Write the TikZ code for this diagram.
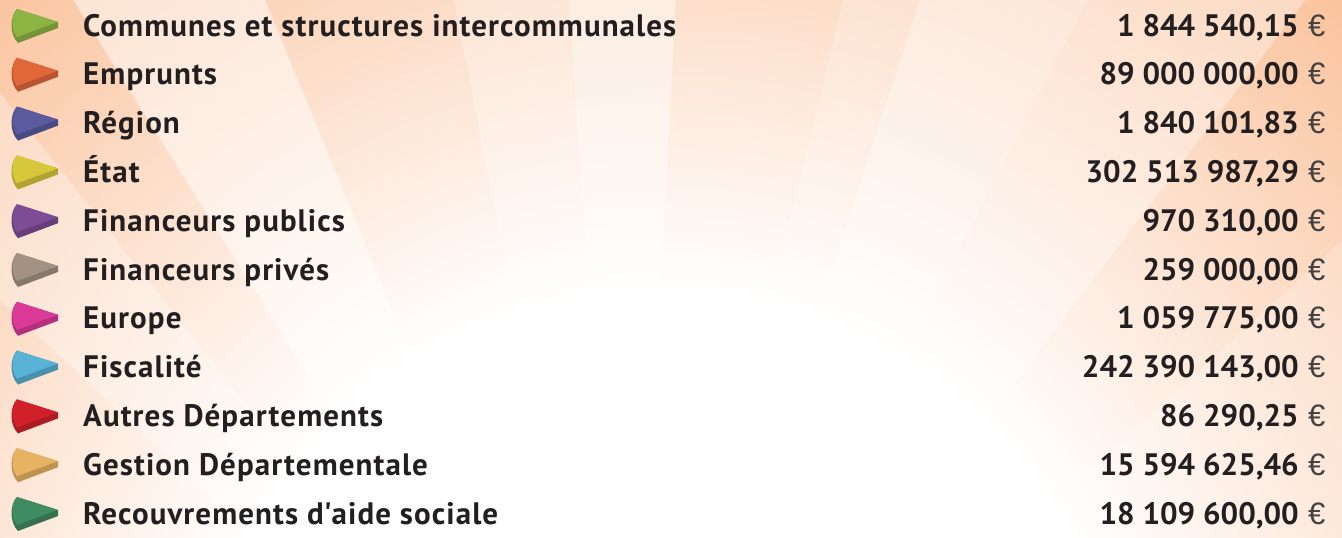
\documentclass[tikz,border=0pt]{standalone}
\usepackage{fontspec}
\setmainfont{PT Sans}
\newfontfamily\labelfont{PT Sans}[LetterSpace=3.5]
\newfontfamily\eurofont{Liberation Sans}
\usetikzlibrary{positioning}

\definecolor{sunorange}{HTML}{F8A56C}
\definecolor{textgrey}{HTML}{231F20}
\definecolor{cgreen}{HTML}{8DB443}
\definecolor{corange}{HTML}{E0673A}
\definecolor{cblue}{HTML}{5A5A9E}
\definecolor{cyellow}{HTML}{D9C73B}
\definecolor{cpurple}{HTML}{7E4C94}
\definecolor{ctaupe}{HTML}{A39283}
\definecolor{cpink}{HTML}{DC3A98}
\definecolor{csky}{HTML}{58B2D6}
\definecolor{cred}{HTML}{D2202A}
\definecolor{cgold}{HTML}{E8B263}
\definecolor{cteal}{HTML}{3F8B62}

\pgfdeclareradialshading{sunburst}{\pgfpoint{0bp}{0bp}}{color(0bp)=(white); color(9bp)=(white); color(25bp)=(sunorange); color(50bp)=(sunorange)}

% one 3d pie slice, #1 colour
\newcommand{\slice}[1]{%
  \fill[#1!82!black] (17,-27) .. controls (10,-20) and (9,-2) .. (18,7) -- (58,-8) -- (58,-14) -- cycle;
  \fill[#1] (17,-27) .. controls (11,-20) and (11,-6) .. (17,1) -- (58,-14) -- cycle;
}

\tikzset{
  itemtext/.style={inner sep=0pt, text=textgrey, font=\fontsize{31}{36}\selectfont\labelfont\bfseries},
  amounttext/.style={inner sep=0pt, text=textgrey, font=\fontsize{31}{36}\selectfont\bfseries},
  eurosign/.style={inner sep=0pt, text=textgrey!85, font=\fontsize{31}{36}\selectfont\eurofont},
  ray/.style={fill=white, opacity=#1}
}

\begin{document}
\begin{tikzpicture}[x=1pt, y=-1pt]
\useasboundingbox (0,0) rectangle (1342,538);

% background with rays
\fill[sunorange] (0,0) rectangle (1342,538);
\begin{scope}
  \clip (0,0) rectangle (1342,538);
  \shade[shading=sunburst] (660,760) circle (1300);
  \fill[ray=.3] (630,890) -- (-200,-160) -- (-200,113) -- cycle;
  \fill[ray=.5] (630,890) -- (-52,-200) -- (183,-200) -- cycle;
  \fill[ray=.25] (630,890) -- (414,-200) -- (555,-200) -- cycle;
  \fill[ray=.45] (630,890) -- (555,-200) -- (686,-200) -- cycle;
  \fill[ray=.2] (630,890) -- (891,-200) -- (985,-200) -- cycle;
  \fill[ray=.45] (630,890) -- (985,-200) -- (1190,-200) -- cycle;
  \fill[ray=.35] (630,890) -- (1190,-200) -- (1457,-200) -- cycle;
  \fill[ray=.2] (630,890) -- (1600,5) -- (1600,495) -- cycle;
\end{scope}

% legend rows
\foreach \col/\txt/\amt [count=\i from 0] in {
  cgreen/{Communes et structures intercommunales}/{1 844 540,15},
  corange/{Emprunts}/{89 000 000,00},
  cblue/{Région}/{1 840 101,83},
  cyellow/{État}/{302 513 987,29},
  cpurple/{Financeurs publics}/{970 310,00},
  ctaupe/{Financeurs privés}/{259 000,00},
  cpink/{Europe}/{1 059 775,00},
  csky/{Fiscalité}/{242 390 143,00},
  cred/{Autres Départements}/{86 290,25},
  cgold/{Gestion Départementale}/{15 594 625,46},
  cteal/{Recouvrements d\textquotesingle aide sociale}/{18 109 600,00}}
{
  \pgfmathsetmacro\y{36+48.8*\i}
  \begin{scope}[shift={(0,\y)}]
    \slice{\col}
  \end{scope}
  \node[itemtext, anchor=base west] (item\i) at (83,\y) {\txt};
  \node[amounttext, anchor=base east] (amount\i) at (1299,\y) {\amt};
  \node[eurosign, base right=9pt of amount\i] (euro\i) {€};
}
\end{tikzpicture}
\end{document}
